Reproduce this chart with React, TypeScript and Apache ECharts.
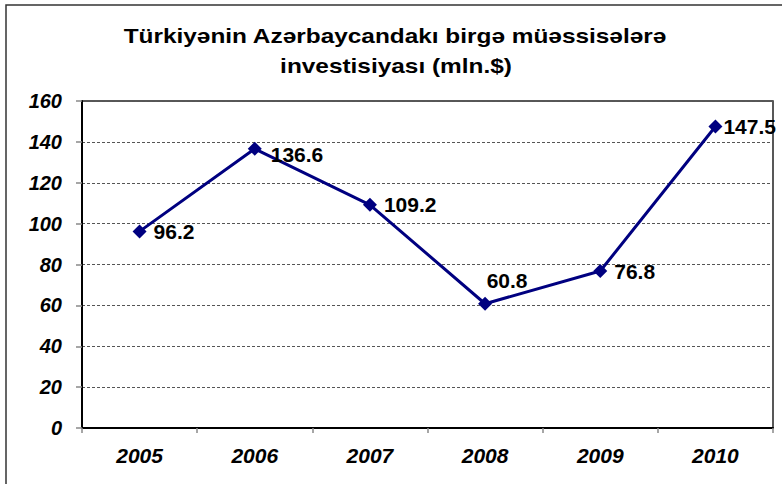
import React, { useEffect, useRef } from "react";
import * as echarts from "echarts";

const categories = ["2005", "2006", "2007", "2008", "2009", "2010"];
const values = [96.2, 136.6, 109.2, 60.8, 76.8, 147.5];
const yMin = 0;
const yMax = 160;
const yInterval = 20;
const titleLines = [
  "Türkiyənin Azərbaycandakı birgə müəssisələrə",
  "investisiyası (mln.$)",
];

const FONT = "'Liberation Sans', Arial, sans-serif";

export default function App() {
  const ref = useRef<HTMLDivElement>(null);

  useEffect(() => {
    if (!ref.current) return;
    const chart = echarts.init(ref.current, undefined, { renderer: "svg" });

    const seriesData = values.map((v, i) => {
      if (i === 3) {
        return { value: v, label: { position: "top", distance: 6, offset: [22, 0] } };
      }
      if (i === 1) {
        return { value: v, label: { offset: [2, 6] } };
      }
      if (i === 5) {
        return { value: v, label: { distance: 1 } };
      }
      return v;
    });

    chart.setOption({
      animation: false,
      backgroundColor: "#ffffff",
      graphic: [
        {
          type: "rect",
          shape: { x: 6, y: 5, width: 900, height: 700 },
          style: { fill: "none", stroke: "#333333", lineWidth: 1.5 },
          silent: true,
        },
        {
          type: "text",
          x: 395,
          y: 36,
          scaleX: 1.22,
          style: {
            text: titleLines[0],
            x: 0,
            y: 0,
            align: "center",
            verticalAlign: "middle",
            font: `bold 20px ${FONT}`,
            fill: "#000000",
          },
        },
        {
          type: "text",
          x: 396,
          y: 66,
          scaleX: 1.22,
          style: {
            text: titleLines[1],
            x: 0,
            y: 0,
            align: "center",
            verticalAlign: "middle",
            font: `bold 20px ${FONT}`,
            fill: "#000000",
          },
        },
      ],
      grid: {
        left: 82,
        top: 101,
        right: 9,
        bottom: 56,
        show: true,
        borderColor: "#222222",
        borderWidth: 1.5,
        backgroundColor: "transparent",
      },
      xAxis: {
        type: "category",
        data: categories,
        boundaryGap: true,
        axisLine: { show: true, lineStyle: { color: "#000000", width: 2 } },
        axisTick: {
          show: true,
          alignWithLabel: false,
          length: 5,
          lineStyle: { color: "#888888", width: 1.5 },
        },
        axisLabel: {
          margin: 17,
          fontFamily: FONT,
          fontSize: 21,
          fontWeight: "bold",
          fontStyle: "italic",
          color: "#000000",
        },
        splitLine: { show: false },
      },
      yAxis: {
        type: "value",
        min: yMin,
        max: yMax,
        interval: yInterval,
        axisLine: { show: true, lineStyle: { color: "#000000", width: 2 } },
        axisTick: {
          show: true,
          length: 6,
          lineStyle: { color: "#888888", width: 1.5 },
        },
        axisLabel: {
          margin: 20,
          fontFamily: FONT,
          fontSize: 20,
          fontWeight: "bold",
          fontStyle: "italic",
          color: "#000000",
        },
        splitLine: {
          show: true,
          lineStyle: { color: "#555555", width: 1, type: [3, 2] },
        },
      },
      series: [
        {
          type: "line",
          data: seriesData,
          lineStyle: { color: "#000080", width: 3 },
          itemStyle: { color: "#000080" },
          symbol: "diamond",
          symbolSize: 14,
          label: {
            show: true,
            position: "right",
            distance: 7,
            fontFamily: FONT,
            fontSize: 21,
            fontWeight: "bold",
            color: "#000000",
          },
        },
      ],
    });

    return () => {
      chart.dispose();
    };
  }, []);

  return (
    <div
      ref={ref}
      style={{ position: "fixed", left: 0, top: 0, width: 782, height: 484 }}
    />
  );
}
